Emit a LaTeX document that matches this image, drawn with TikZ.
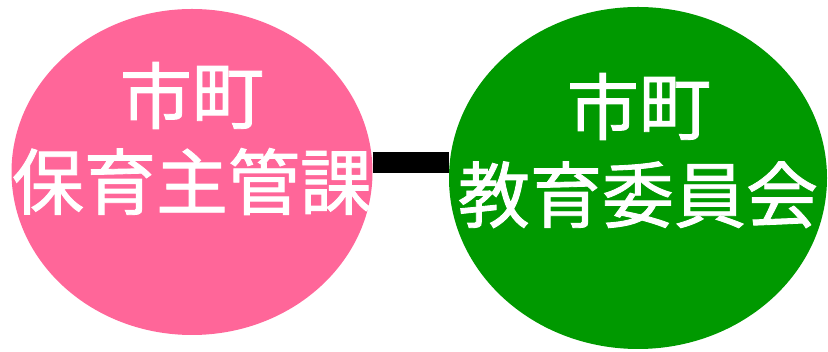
\documentclass[tikz,border=0pt]{standalone}
\usepackage{fontspec}
\newfontfamily\cjk[FakeBold=1.2]{Noto Sans CJK JP}
\usetikzlibrary{shapes.geometric,backgrounds}
\definecolor{pinkfill}{RGB}{255,102,153}
\definecolor{greenfill}{RGB}{0,153,0}
\tikzset{
  blob/.style={ellipse, inner sep=0pt, draw=none},
  lbl/.style={text=white, anchor=base, inner sep=0pt, font=\cjk\fontsize{72}{86}\selectfont},
  link/.style={line width=21pt, draw=black}
}
\begin{document}
\begin{tikzpicture}[x=1pt,y=1pt]
\useasboundingbox (0,0) rectangle (828,352);
\node[blob, fill=pinkfill, minimum width=361pt, minimum height=326pt] (pink) at (192,180) {};
\node[blob, fill=greenfill, minimum width=378pt, minimum height=342pt] (green) at (638,174) {};
\begin{pgfonlayer}{background}
\draw[link] ([yshift=9pt]pink.east) -- ([yshift=15pt]green.west);
\end{pgfonlayer}
\node[lbl] (p1) at (192,229) {市町};
\node[lbl] (p2) at (192,143) {保育主管課};
\node[lbl] (g1) at (639,218) {市町};
\node[lbl] (g2) at (638,130) {教育委員会};
\end{tikzpicture}
\end{document}
